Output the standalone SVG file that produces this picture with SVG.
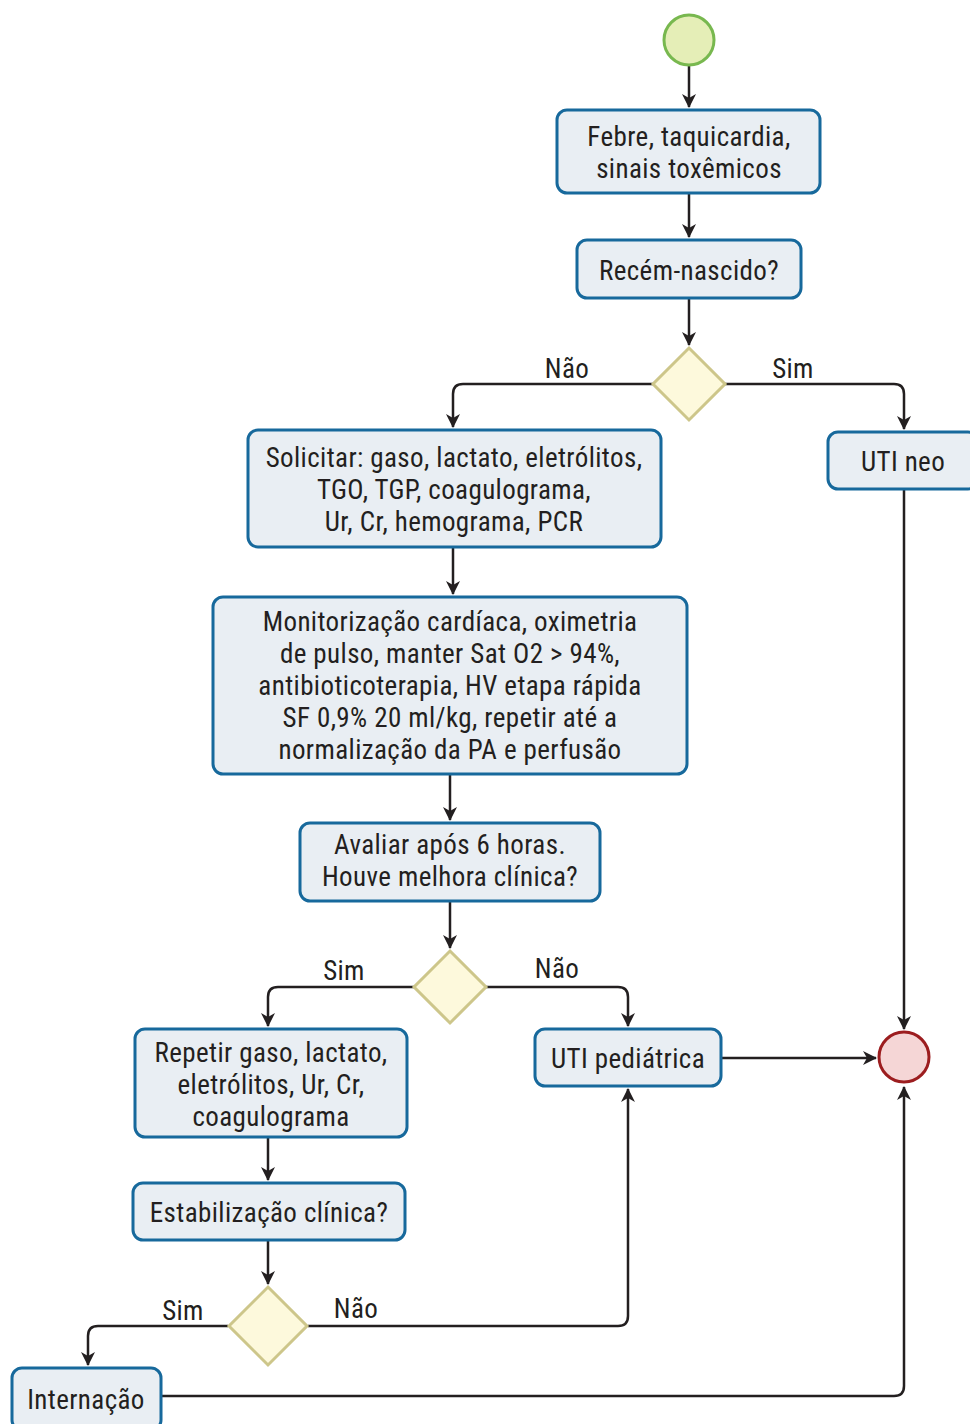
<svg xmlns="http://www.w3.org/2000/svg" width="970" height="1424" viewBox="0 0 970 1424">
  <style>
    .box { fill: #e9eef3; stroke: #17699c; stroke-width: 3; }
    .dec { fill: #fdf9dc; stroke: #cdc68a; stroke-width: 3; }
    .start { fill: #e5eeb7; stroke: #78b84f; stroke-width: 3; }
    .end { fill: #f5d6d6; stroke: #9c1d1f; stroke-width: 3; }
    .t { font-family: "Liberation Sans Narrow", "Roboto Condensed", "Liberation Sans", sans-serif; font-size: 27px; letter-spacing: 0.4px; fill: #231f20; text-anchor: middle; }
    .edge { fill: none; stroke: #231f20; stroke-width: 2.5; marker-end: url(#arrow); }
  </style>
  <defs>
    <marker id="arrow" markerWidth="14" markerHeight="16" refX="13" refY="7" orient="auto" markerUnits="userSpaceOnUse">
      <path d="M0,0 L14,7 L0,14 L4,7 Z" fill="#231f20"/>
    </marker>
  </defs>

  <g id="connectors">
    <path class="edge" d="M689,66 V107"/>
    <path class="edge" d="M689,194 V237"/>
    <path class="edge" d="M689,299 V345"/>
    <path class="edge" d="M653,384 H463 Q453,384 453,394 V427"/>
    <path class="edge" d="M725,384 H894 Q904,384 904,394 V429"/>
    <path class="edge" d="M453,548 V594"/>
    <path class="edge" d="M450,775 V820"/>
    <path class="edge" d="M450,902 V948"/>
    <path class="edge" d="M414,987 H278 Q268,987 268,997 V1026"/>
    <path class="edge" d="M486,987 H618 Q628,987 628,997 V1026"/>
    <path class="edge" d="M904,490 V1029"/>
    <path class="edge" d="M722,1058 H876"/>
    <path class="edge" d="M268,1138 V1180"/>
    <path class="edge" d="M268,1241 V1284"/>
    <path class="edge" d="M228,1326 H98 Q88,1326 88,1336 V1365"/>
    <path class="edge" d="M308,1326 H618 Q628,1326 628,1316 V1089"/>
    <path class="edge" d="M162,1396 H894 Q904,1396 904,1386 V1087"/>
  </g>

  <g id="start">
    <circle class="start" cx="689" cy="40" r="25"/>
  </g>

  <g id="febre">
    <rect class="box" x="557" y="110" width="263" height="83" rx="10"/>
    <text class="t" x="689" y="146">Febre, taquicardia,</text>
    <text class="t" x="689" y="178">sinais toxêmicos</text>
  </g>

  <g id="recem-nascido">
    <rect class="box" x="577" y="240" width="224" height="58" rx="10"/>
    <text class="t" x="689" y="280">Recém-nascido?</text>
  </g>

  <g id="decisao-rn">
    <polygon class="dec" points="689,348 725,384 689,420 653,384"/>
  </g>
  <text class="t" x="567" y="378">Não</text>
  <text class="t" x="793" y="378">Sim</text>

  <g id="uti-neo">
    <rect class="box" x="828" y="432" width="150" height="57" rx="10"/>
    <text class="t" x="903" y="471">UTI neo</text>
  </g>

  <g id="solicitar">
    <rect class="box" x="248" y="430" width="413" height="117" rx="10"/>
    <text class="t" x="454" y="467">Solicitar: gaso, lactato, eletrólitos,</text>
    <text class="t" x="454" y="499">TGO, TGP, coagulograma,</text>
    <text class="t" x="454" y="531">Ur, Cr, hemograma, PCR</text>
  </g>

  <g id="monitorizacao">
    <rect class="box" x="213" y="597" width="474" height="177" rx="10"/>
    <text class="t" x="450" y="631">Monitorização cardíaca, oximetria</text>
    <text class="t" x="450" y="663">de pulso, manter Sat O2 &gt; 94%,</text>
    <text class="t" x="450" y="695">antibioticoterapia, HV etapa rápida</text>
    <text class="t" x="450" y="727">SF 0,9% 20 ml/kg, repetir até a</text>
    <text class="t" x="450" y="759">normalização da PA e perfusão</text>
  </g>

  <g id="avaliar">
    <rect class="box" x="300" y="823" width="300" height="78" rx="10"/>
    <text class="t" x="450" y="854">Avaliar após 6 horas.</text>
    <text class="t" x="450" y="886">Houve melhora clínica?</text>
  </g>

  <g id="decisao-melhora">
    <polygon class="dec" points="450,951 486,987 450,1023 414,987"/>
  </g>
  <text class="t" x="344" y="980">Sim</text>
  <text class="t" x="557" y="978">Não</text>

  <g id="repetir">
    <rect class="box" x="135" y="1029" width="272" height="108" rx="10"/>
    <text class="t" x="271" y="1062">Repetir gaso, lactato,</text>
    <text class="t" x="271" y="1094">eletrólitos, Ur, Cr,</text>
    <text class="t" x="271" y="1126">coagulograma</text>
  </g>

  <g id="uti-pediatrica">
    <rect class="box" x="535" y="1029" width="186" height="57" rx="10"/>
    <text class="t" x="628" y="1068">UTI pediátrica</text>
  </g>

  <g id="end">
    <circle class="end" cx="904" cy="1057" r="25"/>
  </g>

  <g id="estabilizacao">
    <rect class="box" x="133" y="1183" width="272" height="57" rx="10"/>
    <text class="t" x="269" y="1222">Estabilização clínica?</text>
  </g>

  <g id="decisao-estab">
    <polygon class="dec" points="268,1287 307,1326 268,1365 229,1326"/>
  </g>
  <text class="t" x="183" y="1320">Sim</text>
  <text class="t" x="356" y="1318">Não</text>

  <g id="internacao">
    <rect class="box" x="12" y="1368" width="149" height="62" rx="10"/>
    <text class="t" x="86" y="1409">Internação</text>
  </g>
</svg>
